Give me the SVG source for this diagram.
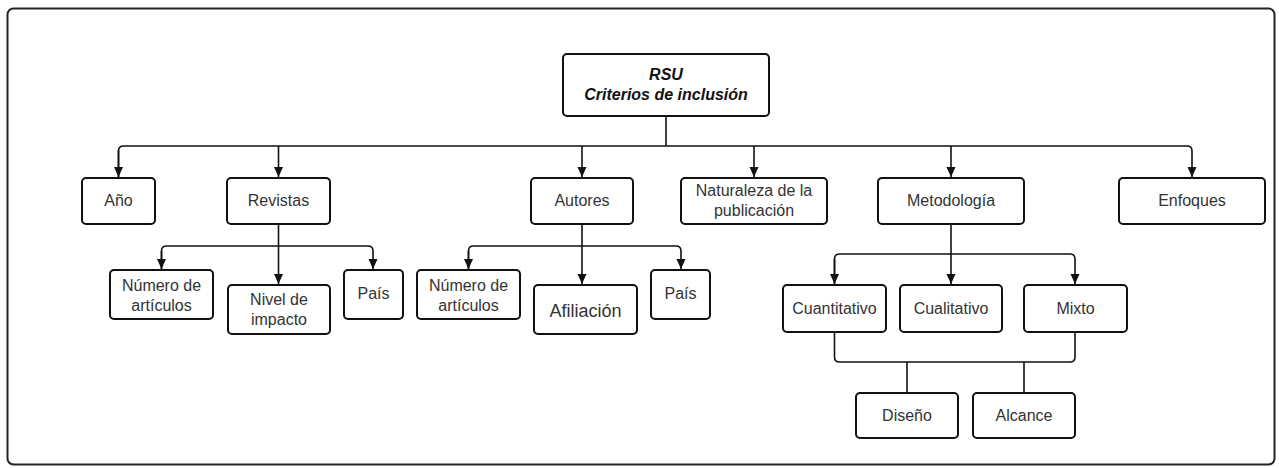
<svg xmlns="http://www.w3.org/2000/svg" width="1279" height="468" viewBox="0 0 1279 468">
<style>
.box{fill:#fff;stroke:#111;stroke-width:2}
.t{font-family:"Liberation Sans",Arial,sans-serif;font-size:16px;fill:#333;text-anchor:middle}
.r{font-family:"Liberation Sans",Arial,sans-serif;font-size:16px;fill:#111;text-anchor:middle;font-weight:bold;font-style:italic}
.c{fill:none;stroke:#111;stroke-width:1.6}
</style>
<defs>
<marker id="ah" viewBox="0 0 10 10" refX="10" refY="5" markerWidth="10" markerHeight="10" markerUnits="userSpaceOnUse" orient="auto">
<path d="M0,0.5 L10,5 L0,9.5 Z" fill="#111"/>
</marker>
</defs>
<rect x="0" y="0" width="1279" height="468" fill="#fff"/>
<rect x="7.5" y="8.5" width="1267" height="456" rx="6" fill="none" stroke="#222" stroke-width="2"/>
<g id="connectors">
<path class="c" d="M666,116 V146"/>
<path class="c" d="M118.5,177 V151 Q118.5,146 123.5,146 H1187 Q1192,146 1192,151 V177" marker-end="url(#ah)"/>
<path class="c" d="M118.5,150 V177" marker-end="url(#ah)"/>
<path class="c" d="M278.5,146 V177" marker-end="url(#ah)"/>
<path class="c" d="M582,146 V177" marker-end="url(#ah)"/>
<path class="c" d="M754,146 V177" marker-end="url(#ah)"/>
<path class="c" d="M951,146 V177" marker-end="url(#ah)"/>
<path class="c" d="M278.5,224 V246"/>
<path class="c" d="M161.5,269 V251 Q161.5,246 166.5,246 H368 Q373,246 373,251 V269" marker-end="url(#ah)"/>
<path class="c" d="M161.5,251 V269" marker-end="url(#ah)"/>
<path class="c" d="M278.5,246 V284" marker-end="url(#ah)"/>
<path class="c" d="M582,224 V246"/>
<path class="c" d="M468.5,269 V251 Q468.5,246 473.5,246 H676 Q681,246 681,251 V269" marker-end="url(#ah)"/>
<path class="c" d="M468.5,251 V269" marker-end="url(#ah)"/>
<path class="c" d="M582,246 V284" marker-end="url(#ah)"/>
<path class="c" d="M951,224 V254"/>
<path class="c" d="M834.5,284 V259 Q834.5,254 839.5,254 H1070 Q1075,254 1075,259 V284" marker-end="url(#ah)"/>
<path class="c" d="M834.5,259 V284" marker-end="url(#ah)"/>
<path class="c" d="M951,254 V284" marker-end="url(#ah)"/>
<path class="c" d="M834.5,332 V357 Q834.5,362 839.5,362 H1070 Q1075,362 1075,357 V332"/>
<path class="c" d="M907,362 V393"/>
<path class="c" d="M1024,362 V393"/>
</g>
<g id="root"><rect class="box" x="563" y="54" width="206" height="62" rx="4"/><text class="r" x="666" y="80">RSU</text><text class="r" x="666" y="100">Criterios de inclusión</text></g>
<g id="anio"><rect class="box" x="82" y="178" width="73" height="46" rx="4"/><text class="t" x="118.5" y="206">Año</text></g>
<g id="revistas"><rect class="box" x="227" y="178" width="103" height="46" rx="4"/><text class="t" x="278.5" y="206">Revistas</text></g>
<g id="autores"><rect class="box" x="531" y="178" width="102" height="46" rx="4"/><text class="t" x="582" y="206">Autores</text></g>
<g id="naturaleza"><rect class="box" x="681" y="178" width="146" height="46" rx="4"/><text class="t" x="754" y="196">Naturaleza de la</text><text class="t" x="754" y="216">publicación</text></g>
<g id="metodologia"><rect class="box" x="878" y="178" width="146" height="46" rx="4"/><text class="t" x="951" y="206">Metodología</text></g>
<g id="enfoques"><rect class="box" x="1119" y="178" width="146" height="46" rx="4"/><text class="t" x="1192" y="206">Enfoques</text></g>
<g id="numero1"><rect class="box" x="110" y="270" width="103" height="49" rx="4"/><text class="t" x="161.5" y="291">Número de</text><text class="t" x="161.5" y="311">artículos</text></g>
<g id="nivel"><rect class="box" x="228" y="285" width="102" height="49" rx="4"/><text class="t" x="279" y="305">Nivel de</text><text class="t" x="279" y="325">impacto</text></g>
<g id="pais1"><rect class="box" x="344" y="270" width="59" height="49" rx="4"/><text class="t" x="373.5" y="299">País</text></g>
<g id="numero2"><rect class="box" x="417" y="270" width="103" height="49" rx="4"/><text class="t" x="468.5" y="291">Número de</text><text class="t" x="468.5" y="311">artículos</text></g>
<g id="afiliacion"><rect class="box" x="534" y="285" width="103" height="49" rx="4"/><text class="t" x="585.5" y="317" style="font-size:18px">Afiliación</text></g>
<g id="pais2"><rect class="box" x="651" y="270" width="59" height="49" rx="4"/><text class="t" x="680.5" y="299">País</text></g>
<g id="cuantitativo"><rect class="box" x="783" y="285" width="103" height="47" rx="4"/><text class="t" x="834.5" y="314">Cuantitativo</text></g>
<g id="cualitativo"><rect class="box" x="900" y="285" width="102" height="47" rx="4"/><text class="t" x="951" y="314">Cualitativo</text></g>
<g id="mixto"><rect class="box" x="1024" y="285" width="103" height="47" rx="4"/><text class="t" x="1075.5" y="314">Mixto</text></g>
<g id="diseno"><rect class="box" x="856" y="393" width="102" height="45" rx="4"/><text class="t" x="907" y="421">Diseño</text></g>
<g id="alcance"><rect class="box" x="973" y="393" width="102" height="45" rx="4"/><text class="t" x="1024" y="421">Alcance</text></g>
</svg>
